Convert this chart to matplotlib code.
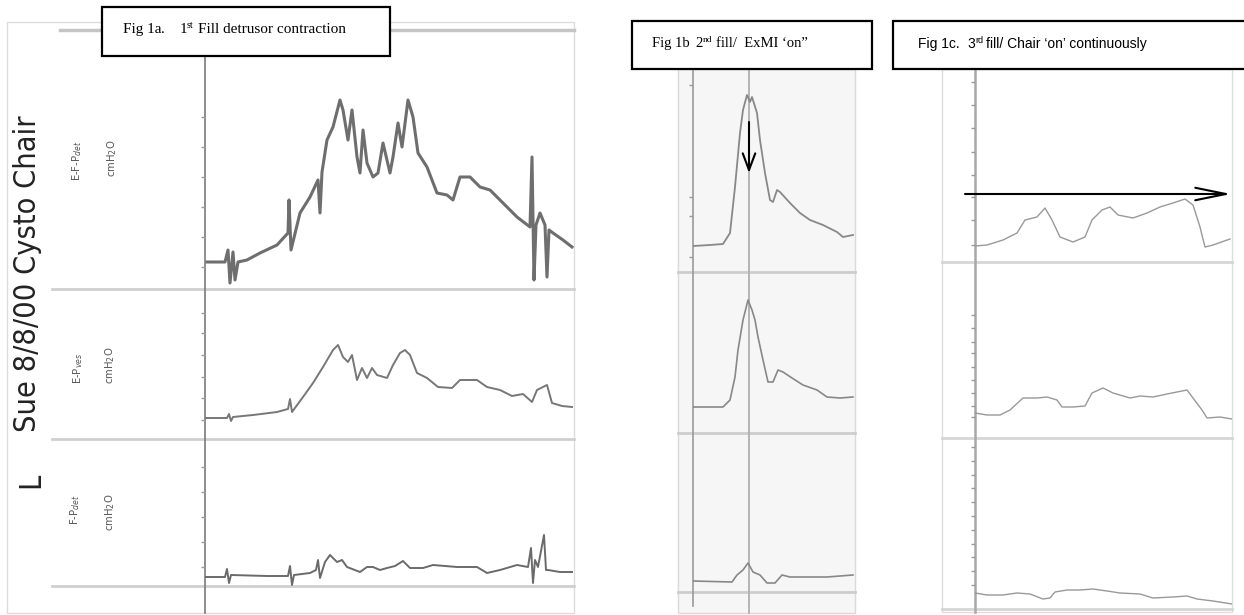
import matplotlib
matplotlib.use('Agg')
import matplotlib.pyplot as plt
from matplotlib.patches import Rectangle

# --- traces (time in s from the start of the axis, pressure in cmH2O) ---
# Fig 1a, 1st fill
a1_t = [2, 20, 23, 25, 28, 30, 33, 42, 55, 72, 83, 84, 86, 95, 105, 113, 115, 117, 122, 128, 135, 138,
        143, 147, 152, 155, 158, 162, 168, 173, 178, 185, 188, 193, 197, 203, 208, 213, 222, 232, 242,
        248, 255, 265, 275, 285, 298, 312, 325, 327, 329, 331, 335, 340, 342, 344, 348, 358, 367]
a1_p = [13.5, 13.5, 19.5, 3, 18.5, 4.5, 13.5, 14.5, 18, 22, 28, 44.5, 19.5, 38, 46, 54.5, 38, 58.5, 74.5,
        81, 94.5, 89.5, 74.5, 89.5, 66, 58, 79.5, 63, 56, 58, 73, 58, 66, 83, 71, 94.5, 86, 68, 61, 48,
        47, 44.5, 56, 56, 51, 49.5, 43, 36, 31, 66, 4.5, 32, 38, 32, 6, 29.5, 28, 24.5, 21]
a2_t = [0, 22, 24, 26, 28, 48, 72, 83, 85, 87, 98, 108, 118, 128, 133, 138, 143, 147, 152, 157, 162, 167,
        172, 182, 188, 195, 200, 205, 212, 222, 233, 247, 255, 272, 282, 295, 307, 318, 327, 332, 342,
        347, 357, 367]
a2_p = [10.5, 10.5, 12.5, 9, 11, 12, 13.5, 15, 20, 13.5, 21, 28, 36, 44.5, 47, 41, 38.5, 42, 29.5, 35.5,
        30.5, 35.5, 32, 30.5, 37, 43, 44.5, 42, 33, 30.5, 26, 25.5, 29.5, 29.5, 26, 24.5, 21.5, 22.5,
        18.5, 24.5, 27, 18, 16.5, 16]
a3_t = [0, 20, 22, 24, 26, 62, 83, 85, 87, 89, 105, 111, 113, 115, 120, 125, 132, 137, 142, 155, 162, 168,
        175, 182, 190, 198, 205, 218, 228, 252, 272, 282, 295, 312, 323, 326, 328, 330, 333, 339, 341,
        343, 355, 367]
a3_p = [5, 5, 9, 2, 6, 5.5, 5.5, 10.5, 1, 6, 7, 8.5, 13.5, 4.5, 12.5, 16, 12.5, 13.5, 10, 7.5, 10, 10,
        8.5, 9.5, 10.5, 13, 9.5, 9.5, 11, 10, 10, 7, 8.5, 11, 10, 19.5, 2, 13.5, 10, 26, 8.5, 8.5, 7.5, 7.5]

# Fig 1b, 2nd fill / ExMI on
b1_t = [0, 17, 30, 37, 42, 47, 50, 54, 57, 59, 64, 67, 72, 77, 80, 84, 87, 97, 107, 117, 130, 144, 150, 160]
b1_p = [13, 13.5, 14, 19.5, 42.5, 69.5, 81, 88.5, 85, 87.5, 79.5, 66, 49.5, 36, 35, 41, 40, 34.5, 29.5,
        26, 23.5, 20, 17.5, 18.5]
b2_t = [0, 30, 37, 42, 45, 50, 55, 59, 62, 65, 70, 75, 80, 85, 90, 99, 110, 124, 134, 147, 160]
b2_p = [13, 13, 16.5, 28, 41.5, 56.5, 66.5, 61.5, 56.5, 48, 36.5, 25.5, 25.5, 31.5, 30.5, 27.5, 24, 21.5,
        18, 17.5, 18]
b3_t = [0, 39, 44, 50, 55, 60, 67, 74, 82, 89, 97, 117, 134, 160]
b3_p = [5.5, 5, 8.5, 11, 14.5, 10, 8.5, 4.5, 4.5, 8.5, 7.5, 7.5, 7.5, 8.5]

# Fig 1c, 3rd fill / chair on continuously
c1_t = [0, 12, 28, 42, 50, 62, 70, 77, 85, 98, 110, 117, 127, 135, 143, 158, 172, 185, 198, 210, 218,
        225, 230, 238, 255]
c1_p = [8, 8.5, 11, 14.5, 21, 22.5, 27, 21, 12.5, 10, 12.5, 21, 26, 27.5, 23.5, 22, 24.5, 27.5, 29.5,
        31.5, 28.5, 17.5, 7.5, 8.5, 11.5]
c2_t = [0, 12, 25, 35, 48, 62, 72, 82, 87, 98, 110, 117, 128, 138, 155, 165, 178, 192, 212, 218, 227,
        232, 245, 257]
c2_p = [12.5, 11.5, 11.5, 14, 20, 20, 20.5, 19, 15.5, 15.5, 16, 22.5, 25, 22.5, 20, 21, 20.5, 22, 24, 20,
        14, 10, 10.5, 9.5]
c3_t = [0, 12, 28, 42, 55, 68, 75, 80, 92, 105, 118, 132, 145, 165, 178, 198, 212, 222, 238, 257]
c3_p = [8, 7, 7, 8, 7.5, 5, 5.5, 8.5, 9.5, 9.5, 10, 9, 8, 7.5, 5.5, 6, 6.5, 5, 4, 2.5]

# scale tick marks on the pressure axes (no labels on the print)
a1_ticks = [11, 26, 41, 56, 71, 86]
a2_ticks = [9.5, 20.5, 31, 42, 53, 63]
a3_ticks = [10, 22.5, 35, 47.5, 60]
b1_ticks = [7.5, 28, 37.5, 93.5]
c1_ticks = [8.5, 21, 32.5, 43.5, 55, 67, 78.5, 90]
c2_ticks = [10.5, 16, 22.5, 29, 35.5, 42.5, 48, 55, 61.5]
c3_ticks = [12, 19, 26, 32.5, 39.5, 46.5, 53.5, 60.5, 67, 74, 81]

W, H = 1244, 615
fig = plt.figure(figsize=(W / 100, H / 100), dpi=100)


def px_axes(x0, y0, x1, y1, z):
    ax = fig.add_axes([x0 / W, 1 - y1 / H, (x1 - x0) / W, (y1 - y0) / H], zorder=z)
    ax.patch.set_alpha(0)
    return ax


back = px_axes(0, 0, W, H, 0)
back.set_xlim(0, W)
back.set_ylim(H, 0)
back.axis('off')

front = px_axes(0, 0, W, H, 5)
front.set_xlim(0, W)
front.set_ylim(H, 0)
front.axis('off')

# panel frames / separators
back.add_patch(Rectangle((7, 22), 567, 591, fill=False, ec='#dcdcdc', lw=1))
back.plot([60, 574], [30, 30], color='#c4c4c4', lw=2.5)
for y in (289, 439, 586):
    back.plot([52, 574], [y, y], color='#cfcfcf', lw=2)
back.plot([205, 205], [56, 613], color='#7a7a7a', lw=1.2)

back.add_patch(Rectangle((678, 69), 177, 544, fc='#f6f6f6', ec='#dadada', lw=1))
for y in (272, 433, 592):
    back.plot([678, 855], [y, y], color='#cdcdcd', lw=2)
back.plot([693, 693], [69, 606], color='#9a9a9a', lw=1.2)
back.plot([749, 749], [69, 613], color='#b0b0b0', lw=1.3)

back.add_patch(Rectangle((942, 69), 290, 543, fc='white', ec='#dedede', lw=1))
for y in (262, 438, 609):
    back.plot([942, 1232], [y, y], color='#d5d5d5', lw=2)
back.plot([975, 975], [69, 612], color='#a8a8a8', lw=1.8)


def trace(x0, x1, top, bottom, t, p, ticks, color, lw):
    ax = px_axes(x0, top, x1, bottom, 2)
    ax.set_xlim(0, x1 - x0)
    ax.set_ylim(0, (bottom - top) / 2)
    ax.plot(t, p, color=color, lw=lw, solid_joinstyle='round')
    for s in ax.spines.values():
        s.set_visible(False)
    ax.set_xticks([])
    ax.set_yticks(ticks)
    ax.tick_params(axis='y', direction='out', length=3, width=1, color='#9a9a9a', labelleft=False)
    return ax


trace(205, 575, 29, 289, a1_t, a1_p, a1_ticks, '#6e6e6e', 2.2)
trace(205, 575, 289, 439, a2_t, a2_p, a2_ticks, '#777777', 1.4)
trace(205, 575, 439, 587, a3_t, a3_p, a3_ticks, '#6a6a6a', 1.4)
trace(693, 855, 70, 272, b1_t, b1_p, b1_ticks, '#888888', 1.3)
trace(693, 855, 272, 433, b2_t, b2_p, [], '#888888', 1.2)
trace(693, 855, 433, 592, b3_t, b3_p, [], '#888888', 1.2)
trace(975, 1232, 69, 262, c1_t, c1_p, c1_ticks, '#999999', 1.0)
trace(975, 1232, 262, 438, c2_t, c2_p, c2_ticks, '#999999', 1.0)
trace(975, 1232, 438, 609, c3_t, c3_p, c3_ticks, '#999999', 1.0)

# side labels of the 1a print
narrow = ['Liberation Sans Narrow', 'DejaVu Sans']
sue = back.text(28, 274, 'Sue 8/8/00 Cysto Chair', rotation=90, ha='center', va='center',
                family=narrow, fontstretch='condensed', fontsize=26, color='#222222')
renderer = fig.canvas.get_renderer()
fs = 26 * 317 / sue.get_window_extent(renderer).height
sue.set_fontsize(fs)
back.text(31, 480, 'L', rotation=90, ha='center', va='center', family=narrow,
          fontstretch='condensed', fontsize=fs, color='#222222')
for x, y, s in [(77, 161, 'E-F-P$_{det}$'), (112, 158, 'cmH$_2$O'),
                (78, 368, 'E-P$_{ves}$'), (110, 365, 'cmH$_2$O'),
                (75, 510, 'F-P$_{det}$'), (110, 512, 'cmH$_2$O')]:
    back.text(x, y, s, rotation=90, ha='center', va='center', family=narrow,
              fontstretch='condensed', fontsize=8, color='#555555')


# caption boxes
def rich(x, y, parts, family, size):
    for txt, kind, gap in parts:
        if kind == 's':
            t = front.text(x, y - size * 0.5, txt, fontsize=size * 0.65, family=family, va='baseline')
        else:
            t = front.text(x, y, txt, fontsize=size, family=family, va='baseline')
        w = t.get_window_extent(renderer).width
        if kind == 'u':
            front.plot([x, x + w], [y + 2, y + 2], color='black', lw=0.9)
        x += w + gap


serif = ['Liberation Serif', 'DejaVu Serif']
sans = ['Liberation Sans', 'DejaVu Sans']
for x0, y0, w, h in [(102, 7, 288, 49), (632, 21, 240, 48), (893, 21, 360, 48)]:
    front.add_patch(Rectangle((x0, y0), w, h, fc='white', ec='black', lw=1.6, zorder=3))

rich(123, 33, [('Fig 1a', 'u', 0), ('.', 'n', 14), ('1', 'n', 0), ('st', 's', 4),
               ('Fill detrusor contraction', 'n', 0)], serif, 11)
rich(652, 47, [('Fig 1b', 'u', 6), ('2', 'n', 0), ('nd', 's', 3),
               ('fill/  ExMI \u2018on\u201d', 'n', 0)], serif, 10.5)
rich(918, 48, [('Fig 1c.', 'u', 8), ('3', 'n', 0), ('rd', 's', 3),
               ('fill/ Chair \u2018on\u2019 continuously', 'n', 0)], sans, 10)

# arrows
front.annotate('', xy=(749, 173), xytext=(749, 122),
               arrowprops=dict(arrowstyle='->,head_length=1.2,head_width=0.45', lw=1.5, color='black',
                               shrinkA=0, shrinkB=0))
front.annotate('', xy=(1231, 194), xytext=(965, 194),
               arrowprops=dict(arrowstyle='->,head_length=2.2,head_width=0.45', lw=1.5, color='black',
                               shrinkA=0, shrinkB=0))

fig.savefig('out.png', dpi=100)
